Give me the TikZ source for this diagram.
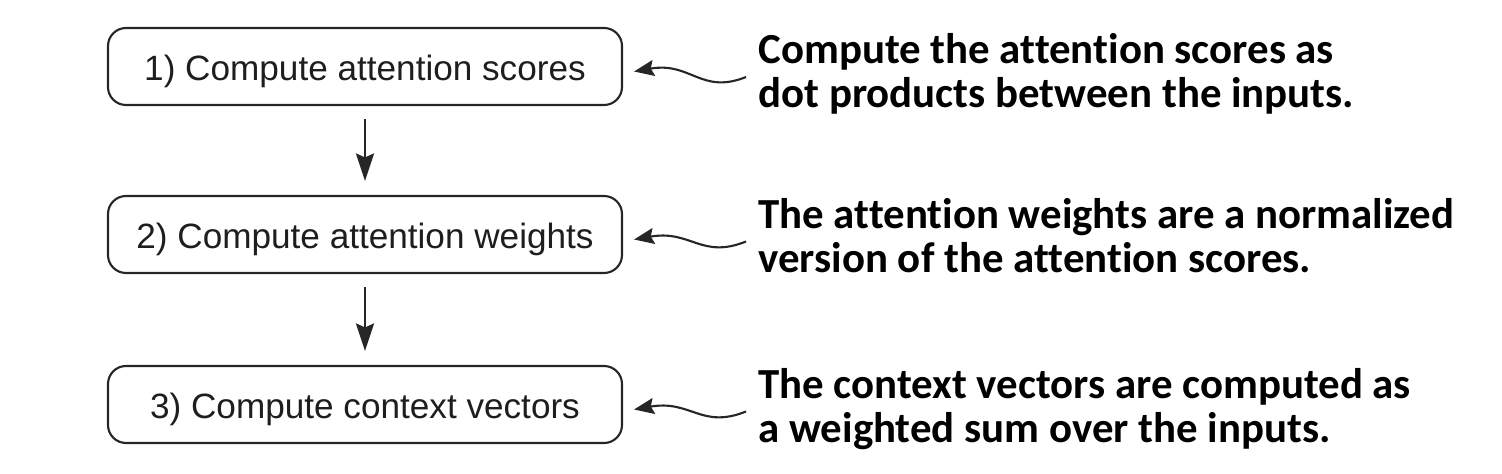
\documentclass[tikz,border=0pt]{standalone}
\usepackage{fontspec}
\setmainfont{Liberation Sans}
\newfontfamily\notefont{Carlito}[Ligatures={NoCommon}]
\usetikzlibrary{positioning, arrows.meta}
\definecolor{boxline}{HTML}{262626}
\definecolor{boxtext}{HTML}{1E1E1E}

\begin{document}
\begin{tikzpicture}[
	stepbox/.style={shape=rectangle, draw=boxline, rounded corners=0.36cm, line width=1.2pt, minimum width=10.28cm, minimum height=1.54cm, inner sep=0pt, text height=0.68cm, text depth=0.12cm, text=boxtext, font=\fontsize{20}{24}\selectfont},
	notetext/.style={anchor=west, align=left, inner sep=0pt, font=\notefont\bfseries\fontsize{24.4}{25.2}\selectfont, yshift=-0.14cm},
	flow/.style={line width=1.2pt, draw=boxline, -{Stealth[length=0.55cm, width=0.36cm, inset=0.08cm]}, shorten <=0.26cm, shorten >=0.28cm},
	wavy/.style={line width=1.2pt, draw=boxline, -{Stealth[length=0.4cm, width=0.32cm, inset=0.06cm]}}]
	\useasboundingbox (0, 0) rectangle (30.04, -9.48);
	% Steps:
	\node[stepbox] (box1) at (7.3, -1.33) {1) Compute attention scores};
	\node[stepbox] (box2) at (7.3, -4.69) {2) Compute attention weights};
	\node[stepbox] (box3) at (7.3, -8.09) {3) Compute context vectors};
	\draw[flow] (box1) -- (box2);
	\draw[flow] (box2) -- (box3);
	% Notes and their arrows:
	\node[notetext, right=2.7cm of box1, yshift=-0.07cm] (note1) {\strut Compute the attention scores as\\\strut dot products between the inputs.};
	\node[notetext, right=2.7cm of box2] (note2) {\strut The attention weights are a normalized\\\strut version of the attention scores.};
	\node[notetext, right=2.7cm of box3] (note3) {\strut The context vectors are computed as\\\strut a weighted sum over the inputs.};
	\foreach \i in {1, 2, 3}
		\draw[wavy] ([xshift=-0.24cm]note\i.west) .. controls +(-0.9, -0.36) and +(1.14, 0.2) .. ([xshift=0.22cm, yshift=-0.1cm]box\i.east);
\end{tikzpicture}
\end{document}
